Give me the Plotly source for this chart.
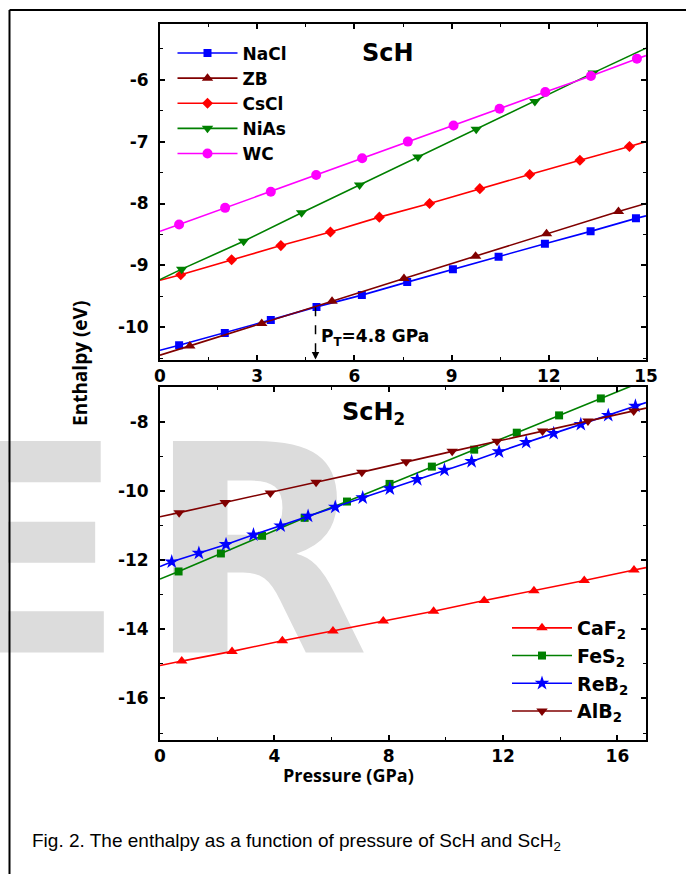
import plotly.graph_objects as go
import numpy as np

W, H = 686, 874

# ---------------- data: ScH (top panel) ----------------
TOP_XMAX = 15
NaCl_P = [0.59, 2.00, 3.42, 4.83, 6.23, 7.63, 9.04, 10.45, 11.88, 13.29, 14.69]
NaCl_E = [-10.29, -10.09, -9.88, -9.67, -9.48, -9.27, -9.06, -8.86, -8.65, -8.45, -8.24]
NaCl_ends = [-10.37, -8.20]

ZB_P = [0.92, 3.14, 5.31, 7.53, 9.74, 11.93, 14.15]
ZB_E = [-10.30, -9.94, -9.58, -9.21, -8.85, -8.49, -8.13]
ZB_ends = [-10.45, -8.00]

CsCl_P = [0.64, 2.21, 3.73, 5.26, 6.77, 8.32, 9.87, 11.41, 12.96, 14.49]
CsCl_E = [-9.15, -8.91, -8.68, -8.46, -8.22, -8.00, -7.76, -7.53, -7.30, -7.08]
CsCl_ends = [-9.24, -7.00]

NiAs_P = [0.67, 2.58, 4.37, 6.16, 7.96, 9.76, 11.57, 13.37]
NiAs_E = [-9.06, -8.61, -8.15, -7.70, -7.25, -6.80, -6.35, -5.89]
NiAs_ends = [-9.23, -5.49]

WC_P = [0.59, 2.01, 3.42, 4.82, 6.24, 7.65, 9.06, 10.48, 11.89, 13.30, 14.72]
WC_E = [-8.34, -8.07, -7.81, -7.54, -7.27, -7.00, -6.74, -6.47, -6.20, -5.94, -5.66]
WC_ends = [-8.45, -5.61]

PT = 4.8  # transition pressure (GPa)

# ---------------- data: ScH2 (bottom panel) ----------------
BOT_XMAX = 17
CaF2_P = [0.76, 2.52, 4.28, 6.05, 7.81, 9.57, 11.34, 13.08, 14.84, 16.58]
CaF2_E = [-14.92, -14.64, -14.33, -14.05, -13.76, -13.48, -13.17, -12.89, -12.59, -12.29]
CaF2_ends = [-15.05, -12.22]

FeS2_P = [0.65, 2.13, 3.57, 5.06, 6.54, 8.03, 9.51, 10.99, 12.48, 13.96, 15.42]
FeS2_E = [-12.33, -11.81, -11.30, -10.78, -10.31, -9.80, -9.30, -8.81, -8.32, -7.82, -7.33]
FeS2_ends = [-12.55, -6.80]

ReB2_P = [0.41, 1.36, 2.31, 3.27, 4.22, 5.18, 6.13, 7.09, 8.04, 9.00, 9.95, 10.90,
          11.86, 12.81, 13.77, 14.72, 15.68, 16.63]
ReB2_E = [-12.05, -11.80, -11.55, -11.27, -11.01, -10.73, -10.47, -10.20, -9.94, -9.67,
          -9.40, -9.15, -8.87, -8.60, -8.34, -8.08, -7.82, -7.55]
ReB2_ends = [-12.19, -7.45]

AlB2_P = [0.67, 2.28, 3.86, 5.46, 7.06, 8.61, 10.22, 11.79, 13.38, 14.97, 16.57]
AlB2_E = [-10.63, -10.34, -10.06, -9.75, -9.46, -9.16, -8.86, -8.57, -8.27, -7.98, -7.69]
AlB2_ends = [-10.75, -7.61]

TOP_YRANGE = [-10.52, -5.10]
BOT_YRANGE = [-17.2, -7.0]

TOP_XTICKS = [0, 3, 6, 9, 12, 15]
TOP_YTICKS = [-10, -9, -8, -7, -6]
BOT_XTICKS = [0, 4, 8, 12, 16]
BOT_YTICKS = [-16, -14, -12, -10, -8]

# ---------------- helpers ----------------
def pxx(p):
    return p / W

def pxy(p):
    return 1 - p / H

def lab(v):
    return [str(t) for t in v]  # plain hyphen-minus labels


fig = go.Figure()

# watermark (background, full-page helper axes)
fig.add_trace(go.Scatter(
    x=[26, 258], y=[580, 580], mode="text", text=["E", "R"],
    textfont=dict(family="DejaVu Sans", size=290, color="#dcdcdc", weight="bold"),
    textposition="middle center", hoverinfo="skip", showlegend=False,
    xaxis="x", yaxis="y"))


def add_series(name, P, E, ends, xmax, color, symbol, msize, xa, ya, leg):
    fig.add_trace(go.Scatter(
        x=[0, P[0], None, P[-1], xmax], y=[ends[0], E[0], None, E[-1], ends[1]],
        mode="lines", line=dict(color=color, width=1.6), showlegend=False,
        hoverinfo="skip", xaxis=xa, yaxis=ya))
    fig.add_trace(go.Scatter(
        x=P, y=E, name=name, mode="lines+markers",
        line=dict(color=color, width=1.6),
        marker=dict(color=color, symbol=symbol, size=msize, line=dict(width=0)),
        xaxis=xa, yaxis=ya, legend=leg))


top = [("NaCl", NaCl_P, NaCl_E, NaCl_ends, "#0000ff", "square", 8),
       ("ZB", ZB_P, ZB_E, ZB_ends, "#800000", "triangle-up", 10),
       ("CsCl", CsCl_P, CsCl_E, CsCl_ends, "#ff0000", "diamond", 8.5),
       ("NiAs", NiAs_P, NiAs_E, NiAs_ends, "#008000", "triangle-down", 10),
       ("WC", WC_P, WC_E, WC_ends, "#ff00ff", "circle", 10)]
for n, P, E, e, c, s, m in top:
    add_series(n, P, E, e, TOP_XMAX, c, s, m, "x2", "y2", "legend")

bot = [("CaF<sub>2</sub>", CaF2_P, CaF2_E, CaF2_ends, "#ff0000", "triangle-up", 10),
       ("FeS<sub>2</sub>", FeS2_P, FeS2_E, FeS2_ends, "#008000", "square", 8),
       ("ReB<sub>2</sub>", ReB2_P, ReB2_E, ReB2_ends, "#0000ff", "star", 11),
       ("AlB<sub>2</sub>", AlB2_P, AlB2_E, AlB2_ends, "#800000", "triangle-down", 10)]
for n, P, E, e, c, s, m in bot:
    add_series(n, P, E, e, BOT_XMAX, c, s, m, "x3", "y3", "legend2")

axis_common = dict(
    showline=True, linecolor="black", linewidth=2, mirror="ticks",
    ticks="inside", ticklen=5, tickwidth=1.5, tickcolor="black",
    showgrid=False, zeroline=False, automargin=False,
    tickfont=dict(family="DejaVu Sans", size=17, weight="bold", color="black"),
)
minor_common = dict(ticks="inside", ticklen=3, tickwidth=1.2, tickcolor="black", showgrid=False)

xdom = [pxx(160), pxx(646)]
fig.update_layout(
    width=W, height=H, margin=dict(l=0, r=0, t=0, b=0, pad=0, autoexpand=False),
    paper_bgcolor="white", plot_bgcolor="rgba(0,0,0,0)",
    xaxis=dict(domain=[0, 1], range=[0, W], visible=False, fixedrange=True, automargin=False),
    yaxis=dict(domain=[0, 1], range=[H, 0], visible=False, fixedrange=True, automargin=False),
    xaxis2=dict(domain=xdom, range=[0, TOP_XMAX], anchor="y2",
                tickvals=TOP_XTICKS, ticktext=lab(TOP_XTICKS),
                minor=dict(dtick=1.5, **minor_common), ticklabelstandoff=0, **axis_common),
    yaxis2=dict(domain=[pxy(359.5), pxy(24)], range=TOP_YRANGE, anchor="x2",
                tickvals=TOP_YTICKS, ticktext=lab(TOP_YTICKS),
                minor=dict(dtick=0.5, **minor_common), ticklabelstandoff=6, **axis_common),
    xaxis3=dict(domain=xdom, range=[0, BOT_XMAX], anchor="y3",
                tickvals=BOT_XTICKS, ticktext=lab(BOT_XTICKS),
                minor=dict(dtick=2, **minor_common), ticklabelstandoff=0, **axis_common),
    yaxis3=dict(domain=[pxy(740), pxy(387)], range=BOT_YRANGE, anchor="x3",
                tickvals=BOT_YTICKS, ticktext=lab(BOT_YTICKS),
                minor=dict(dtick=1, **minor_common), ticklabelstandoff=6, **axis_common),
    legend=dict(x=pxx(172.5), y=pxy(35.5), xanchor="left", yanchor="top",
                font=dict(family="DejaVu Sans", size=17, weight="bold", color="black"),
                bgcolor="rgba(0,0,0,0)", itemwidth=60, tracegroupgap=0),
    legend2=dict(x=pxx(507), y=pxy(609), xanchor="left", yanchor="top",
                 font=dict(family="DejaVu Sans", size=19, weight="bold", color="black"),
                 bgcolor="rgba(0,0,0,0)", itemwidth=60, tracegroupgap=0),
    showlegend=True,
)

# transition marker
E_PT = float(np.interp(PT, NaCl_P, NaCl_E))
fig.add_shape(type="line", xref="x2", yref="y2", x0=PT, x1=PT, y0=E_PT, y1=TOP_YRANGE[0] + 0.08,
              line=dict(color="black", width=1.5, dash="dash"))
fig.add_annotation(xref="x2", yref="y2", axref="x2", ayref="y2", x=PT, y=TOP_YRANGE[0],
                   ax=PT, ay=TOP_YRANGE[0] + 0.12, text="", showarrow=True,
                   arrowhead=2, arrowsize=1, arrowwidth=1.5, arrowcolor="black")
fig.add_annotation(xref="x2", yref="y2", x=PT + 0.12, y=-10.16, xanchor="left", yanchor="middle",
                   text="P<sub>T</sub>=4.8 GPa", showarrow=False,
                   font=dict(family="DejaVu Sans", size=17, weight="bold", color="black"))

# panel titles
fig.add_annotation(xref="paper", yref="paper", x=pxx(388), y=pxy(53), text="ScH", showarrow=False,
                   xanchor="center", yanchor="middle",
                   font=dict(family="DejaVu Sans", size=24, weight="bold", color="black"))
fig.add_annotation(xref="paper", yref="paper", x=pxx(340), y=pxy(396), text="ScH<sub>2</sub>",
                   showarrow=False, xanchor="left", yanchor="top",
                   font=dict(family="DejaVu Sans", size=24, weight="bold", color="black"))

# axis titles
fig.add_annotation(xref="paper", yref="paper", x=pxx(80), y=pxy(364), text="Enthalpy (eV)", textangle=-90,
                   showarrow=False, xanchor="center", yanchor="middle",
                   font=dict(family="Open Sans", size=19, weight="bold", color="black"))
fig.add_annotation(xref="paper", yref="paper", x=pxx(348), y=pxy(775), text="Pressure (GPa)",
                   showarrow=False, xanchor="center", yanchor="middle",
                   font=dict(family="Open Sans", size=18, weight="bold", color="black"))

# caption
fig.add_annotation(xref="paper", yref="paper", x=pxx(30), y=pxy(842),
                   text="Fig. 2. The enthalpy as a function of pressure of ScH and ScH<sub>2</sub>",
                   showarrow=False, xanchor="left", yanchor="middle",
                   font=dict(family="Liberation Sans", size=19, color="black"))

# page frame
fig.add_shape(type="line", xref="paper", yref="paper", x0=pxx(9.5), x1=pxx(9.5), y0=0, y1=pxy(10),
              line=dict(color="black", width=2))
fig.add_shape(type="line", xref="paper", yref="paper", x0=pxx(9.5), x1=1, y0=pxy(10), y1=pxy(10),
              line=dict(color="black", width=2))

fig.write_html("out.html", config={"displayModeBar": False},
               post_script="document.body.style.margin='0px';")
